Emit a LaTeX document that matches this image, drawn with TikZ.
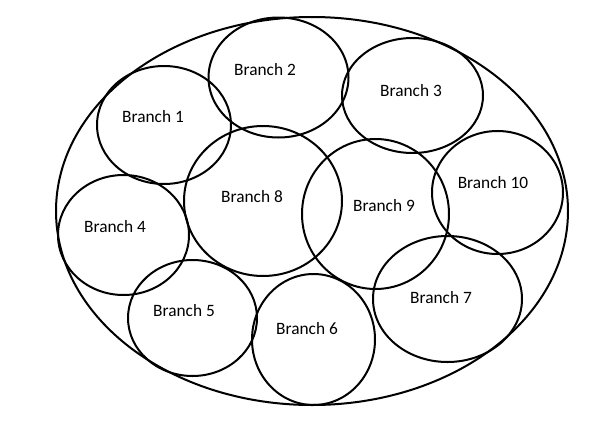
\documentclass[tikz,border=0pt]{standalone}
\usepackage{fontspec}
\setmainfont{Carlito}
\usetikzlibrary{shapes.geometric}
\tikzset{
  el/.style={draw=black, line width=1.5pt, ellipse, inner sep=0pt},
  lbl/.style={inner sep=0pt, font=\fontsize{13}{15}\selectfont, anchor=center}
}
\begin{document}
\begin{tikzpicture}[x=0.75pt,y=-0.75pt]
\useasboundingbox (0,0) rectangle (607,425);
\node[el, minimum width=384pt, minimum height=291pt] (big) at (312,211) {};
\node[el, minimum width=100.5pt, minimum height=88.5pt] (e1) at (164,125) {};
\node[el, minimum width=105pt, minimum height=90pt] (e2) at (278.5,77.5) {};
\node[el, minimum width=105.75pt, minimum height=86.25pt] (e3) at (412.5,95.5) {};
\node[el, minimum width=98.25pt, minimum height=90pt] (e4) at (123.5,235) {};
\node[el, minimum width=96.75pt, minimum height=87pt] (e5) at (192.5,318) {};
\node[el, minimum width=92.25pt, minimum height=98.25pt] (e6) at (313.5,339.5) {};
\node[el, minimum width=111.75pt, minimum height=94.5pt] (e7) at (447.5,299) {};
\node[el, minimum width=118.5pt, minimum height=112.5pt] (e8) at (263,201) {};
\node[el, minimum width=110.25pt, minimum height=112.5pt] (e9) at (375.5,214) {};
\node[el, minimum width=98.25pt, minimum height=92.25pt] (e10) at (497.5,192.5) {};
\node[lbl] (t1) at (153,117) {Branch 1};
\node[lbl] (t2) at (265,70) {Branch 2};
\node[lbl] (t3) at (411,91) {Branch 3};
\node[lbl] (t4) at (115,227) {Branch 4};
\node[lbl] (t5) at (184,311) {Branch 5};
\node[lbl] (t6) at (307,329) {Branch 6};
\node[lbl] (t7) at (441,298) {Branch 7};
\node[lbl] (t8) at (252,197) {Branch 8};
\node[lbl] (t9) at (384,206) {Branch 9};
\node[lbl] (t10) at (493,183) {Branch 10};
\end{tikzpicture}
\end{document}
